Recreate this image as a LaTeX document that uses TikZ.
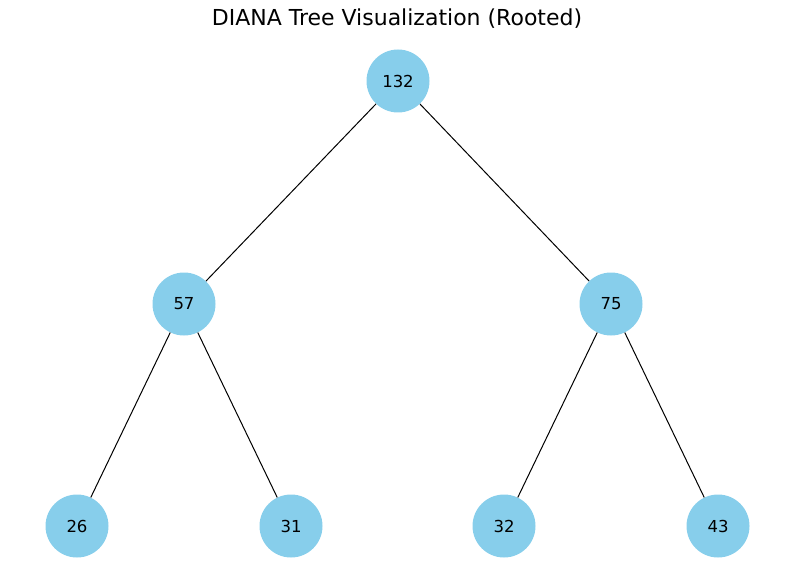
\documentclass[tikz,border=0pt]{standalone}
\usepackage{fontspec}
\setmainfont{DejaVu Sans}
\begin{document}
\begin{tikzpicture}[x=1pt,y=-1pt,
  tn/.style={circle,fill=skyblue,minimum size=63pt,inner sep=0pt,font=\fontsize{16.5}{18}\selectfont},
  edge/.style={draw=black,line width=1pt}]
\definecolor{skyblue}{HTML}{87CEEB}
\useasboundingbox (0,0) rectangle (794,583);
\node[font=\fontsize{22}{24}\selectfont] (title) at (397,19) {DIANA Tree Visualization (Rooted)};
\node[tn] (n132) at (398,81) {132};
\node[tn] (n57) at (184,304) {57};
\node[tn] (n75) at (611,304) {75};
\node[tn] (n26) at (77,526) {26};
\node[tn] (n31) at (291,526) {31};
\node[tn] (n32) at (504,526) {32};
\node[tn] (n43) at (718,526) {43};
\draw[edge] (n132) -- (n57);
\draw[edge] (n132) -- (n75);
\draw[edge] (n57) -- (n26);
\draw[edge] (n57) -- (n31);
\draw[edge] (n75) -- (n32);
\draw[edge] (n75) -- (n43);
\end{tikzpicture}
\end{document}
